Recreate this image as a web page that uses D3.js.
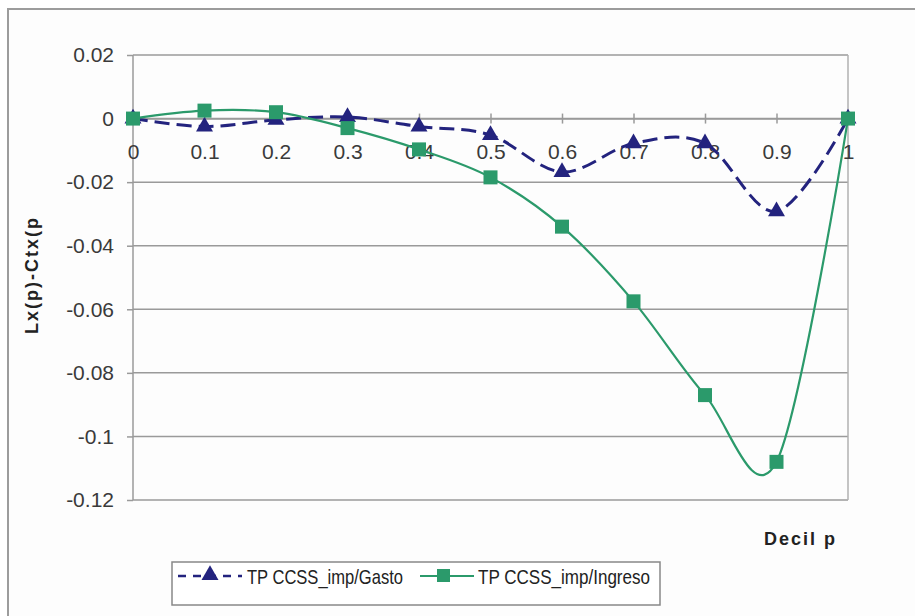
<!DOCTYPE html>
<html><head><meta charset="utf-8">
<script src="https://cdn.jsdelivr.net/npm/d3@7"></script>
<style>body{margin:0;background:#fff}svg{display:block}text{font-family:"Liberation Sans",Arial,sans-serif}</style>
</head><body><svg id="c" width="915" height="616"></svg>
<script>
const deciles = [0,0.1,0.2,0.3,0.4,0.5,0.6,0.7,0.8,0.9,1];
const xTickLabels = ["0","0.1","0.2","0.3","0.4","0.5","0.6","0.7","0.8","0.9","1"];
const yTicks = [0.02,0,-0.02,-0.04,-0.06,-0.08,-0.1,-0.12];
const yTickLabels = ["0.02","0","-0.02","-0.04","-0.06","-0.08","-0.1","-0.12"];
const gasto = [0,-0.0025,-0.0004,0.0005,-0.0025,-0.0052,-0.0168,-0.0078,-0.0078,-0.0292,0];
const ingreso = [0,0.0025,0.002,-0.003,-0.0097,-0.0185,-0.034,-0.0575,-0.087,-0.108,0];
const seriesNames = ["TP CCSS_imp/Gasto","TP CCSS_imp/Ingreso"];
const xTitle = "Decil p";
const yTitle = "Lx(p)-Ctx(p";

const svg = d3.select("#c");
const navy = "#23237e", green = "#2b9a6b", grid = "#9a9a9a";
svg.append("rect").attr("x",8).attr("y",9).attr("width",930).attr("height",640)
  .attr("fill","#fdfdfd").attr("stroke","#9c9c9c").attr("stroke-width",2);

const x = d3.scaleLinear().domain([0,1]).range([133,848]);
const y = d3.scaleLinear().domain([-0.12,0.02]).range([500,55]);

svg.append("g").selectAll("line").data(yTicks).join("line")
  .attr("x1",x(0)).attr("x2",x(1)).attr("y1",d=>y(d)).attr("y2",d=>y(d))
  .attr("stroke",grid).attr("stroke-width",1.5);
svg.append("line").attr("x1",x(0)).attr("x2",x(0)).attr("y1",y(0.02)).attr("y2",y(-0.12)).attr("stroke",grid).attr("stroke-width",1.5);
svg.append("line").attr("x1",x(1)).attr("x2",x(1)).attr("y1",y(0.02)).attr("y2",y(-0.12)).attr("stroke","#b0b0b0").attr("stroke-width",1.5);

const yAxis = d3.axisLeft(y).tickValues(yTicks).tickFormat((d,i)=>yTickLabels[i]).tickSize(6).tickPadding(13);
const gy = svg.append("g").attr("transform",`translate(${x(0)},0)`).call(yAxis);
gy.select(".domain").remove();
gy.selectAll("line").attr("stroke",grid).attr("stroke-width",1.5);
gy.selectAll("text").attr("font-size",21).attr("fill","#3a3a3a");

const xAxis = d3.axisBottom(x).tickValues(deciles).tickFormat((d,i)=>xTickLabels[i]).tickSize(5).tickPadding(8);
const gx = svg.append("g").attr("transform",`translate(0,${y(0)})`).call(xAxis);
gx.select(".domain").attr("stroke",grid).attr("stroke-width",1.5);
gx.selectAll("line").attr("stroke",grid).attr("stroke-width",1.5).attr("y1",-5).attr("y2",5);
gx.selectAll("text").attr("font-size",21).attr("fill","#3a3a3a").attr("y",40).attr("dy",null);

const line = d3.line().x((d,i)=>x(deciles[i])).y(d=>y(d)).curve(d3.curveCardinal.tension(0));

svg.append("path").datum(gasto).attr("d",line).attr("fill","none")
  .attr("stroke",navy).attr("stroke-width",3).attr("stroke-dasharray","15,7");
svg.append("path").datum(ingreso).attr("d",line).attr("fill","none")
  .attr("stroke",green).attr("stroke-width",2.2);

const tri = d3.symbol().type(d3.symbolTriangle).size(125);
svg.append("g").selectAll("path").data(gasto).join("path")
  .attr("d",tri).attr("transform",(d,i)=>`translate(${x(deciles[i])},${y(d)})`).attr("fill",navy);
svg.append("g").selectAll("rect").data(ingreso).join("rect")
  .attr("x",(d,i)=>x(deciles[i])-7).attr("y",d=>y(d)-7).attr("width",14).attr("height",14).attr("fill",green);

svg.append("text").attr("x",837).attr("y",545).attr("text-anchor","end")
  .attr("font-size",18).attr("font-weight","bold").attr("fill","#222").attr("letter-spacing","2px").text(xTitle);
svg.append("text").attr("transform","translate(38,275) rotate(-90)").attr("text-anchor","middle")
  .attr("font-size",18).attr("font-weight","bold").attr("fill","#222").attr("letter-spacing","2px").text(yTitle);

const lg = svg.append("g");
lg.append("rect").attr("x",172).attr("y",562).attr("width",488).attr("height",43)
  .attr("fill","#fff").attr("stroke","#888").attr("stroke-width",1.5);
lg.append("line").attr("x1",178).attr("x2",242).attr("y1",576).attr("y2",576)
  .attr("stroke",navy).attr("stroke-width",2.5).attr("stroke-dasharray","8,7");
lg.append("path").attr("d",tri).attr("transform","translate(210,575)").attr("fill",navy);
lg.append("text").attr("x",247).attr("y",584).attr("font-size",21).attr("fill","#222")
  .attr("textLength",156).attr("lengthAdjust","spacingAndGlyphs").text(seriesNames[0]);
lg.append("line").attr("x1",420).attr("x2",474).attr("y1",576).attr("y2",576)
  .attr("stroke",green).attr("stroke-width",2.2);
lg.append("rect").attr("x",437).attr("y",569).attr("width",13).attr("height",13).attr("fill",green);
lg.append("text").attr("x",478).attr("y",584).attr("font-size",21).attr("fill","#222")
  .attr("textLength",172).attr("lengthAdjust","spacingAndGlyphs").text(seriesNames[1]);
</script></body></html>
